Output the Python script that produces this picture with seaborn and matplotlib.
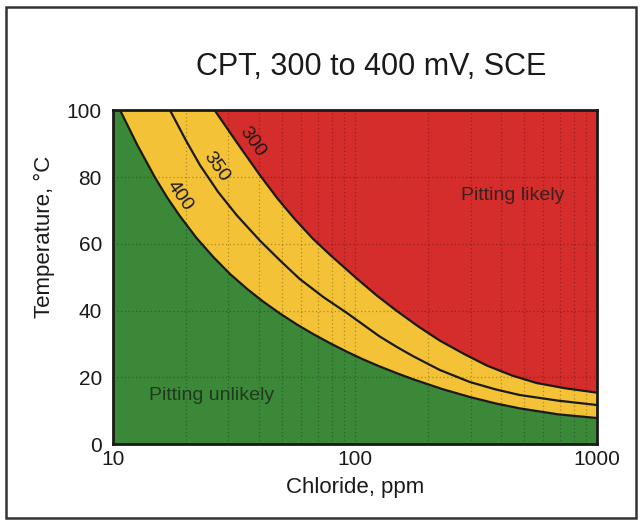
import matplotlib
matplotlib.use("Agg")
import matplotlib.pyplot as plt
import matplotlib.patches as patches
import seaborn as sns

# curve points (chloride ppm, temperature C)
ppm_400 = [10.7, 12.6, 14.9, 16.8, 18.9, 22.1, 26.0, 30.5, 35.8, 41.7, 49.0, 57.3, 67.0,
           78.9, 92.9, 107, 126, 148, 174, 229, 298, 380, 479, 692, 1000]
temp_400 = [100, 89.6, 79.9, 73.7, 68.3, 61.8, 56.0, 50.9, 46.5, 42.7, 39.1, 35.9, 33.0,
            30.2, 27.6, 25.5, 23.3, 21.3, 19.4, 16.5, 14.1, 12.2, 10.7, 8.9, 7.8]

ppm_350 = [17.2, 20.0, 22.9, 27.2, 32.5, 40.4, 49.0, 59.0, 74.1, 92.9, 107, 126, 148,
           174, 224, 298, 380, 479, 692, 1000]
temp_350 = [100, 91, 83.5, 75.5, 68.5, 61, 55, 49.5, 44, 39.2, 36, 32.3, 29.2,
            26.3, 22.2, 18.6, 16.4, 14.7, 13, 11.7]

ppm_300 = [26.3, 33.1, 40.5, 47.9, 56.2, 67.0, 79.4, 102, 123, 148, 182, 224, 282,
           351, 447, 562, 741, 1000]
temp_300 = [100, 89.5, 80.5, 73.5, 67.5, 61.5, 56.5, 49.5, 44.5, 40, 35.3, 31, 27,
            23.5, 20.5, 18.3, 16.7, 15.4]

curve_labels = ["400", "350", "300"]
label_pos = [(18.8, 74.5), (26.6, 83), (37.5, 90.5)]

y_ticks = [0, 20, 40, 60, 80, 100]
x_ticks = [10, 100, 1000]
x_grid = [20, 30, 40, 50, 60, 70, 80, 90, 100, 200, 300, 400, 500, 600, 700, 800, 900]

GREEN = "#3b8838"
YELLOW = "#f4c236"
RED = "#d42d2b"
INK = "#1a1a1a"

sns.set_style("white")
plt.rcParams['font.family'] = ['Liberation Sans', 'DejaVu Sans']

fig = plt.figure(figsize=(6.42, 5.2), dpi=100)
ax = fig.add_axes([0.176, 0.146, 0.754, 0.642])

ax.set_facecolor(GREEN)
ax.fill_between(ppm_400, temp_400, 100, color=YELLOW, lw=0)
ax.fill_between(ppm_300, temp_300, 100, color=RED, lw=0)

for xs, ys in [(ppm_400, temp_400), (ppm_350, temp_350), (ppm_300, temp_300)]:
    sns.lineplot(x=xs, y=ys, ax=ax, color=INK, lw=1.6, sort=False, estimator=None)

ax.set_xscale("log")
ax.set_xlim(10, 1000)
ax.set_ylim(0, 100)

# dotted grid
for gx in x_grid:
    ax.axvline(gx, color="black", alpha=0.28, lw=0.9, ls=(0, (1, 2)))
for gy in y_ticks[1:-1]:
    ax.axhline(gy, color="black", alpha=0.28, lw=0.9, ls=(0, (1, 2)))

ax.set_xticks(x_ticks)
ax.set_xticklabels([str(t) for t in x_ticks])
ax.xaxis.set_minor_locator(matplotlib.ticker.NullLocator())
ax.set_yticks(y_ticks)
ax.tick_params(axis="both", length=0, labelsize=15, colors=INK)
ax.tick_params(axis="y", pad=8)
ax.tick_params(axis="x", pad=4)

for s in ax.spines.values():
    s.set_color(INK)
    s.set_linewidth(2)

ax.set_xlabel("Chloride, ppm", fontsize=16, color=INK, labelpad=6)
ax.set_ylabel("Temperature, °C", fontsize=16, color=INK)
ax.yaxis.set_label_coords(-0.12, 0.62)

for lab, (lx, ly) in zip(curve_labels, label_pos):
    ax.text(lx, ly, lab, fontsize=14, rotation=-55, ha="center", va="center", color=INK)

ax.text(450, 74.5, "Pitting likely", fontsize=14, ha="center", va="center", color="#3a2020")
ax.text(25.6, 14.7, "Pitting unlikely", fontsize=14, ha="center", va="center", color="#1f3a1c")

fig.text(0.578, 0.872, "CPT, 300 to 400 mV, SCE", fontsize=22, ha="center", va="center", color=INK)

# outer frame
fig.patches.append(patches.Rectangle((6 / 642, 2 / 520), 630 / 642, 511 / 520, transform=fig.transFigure,
                                     fill=False, edgecolor="#333333", lw=1.8))

fig.savefig("out.png", dpi=100)
